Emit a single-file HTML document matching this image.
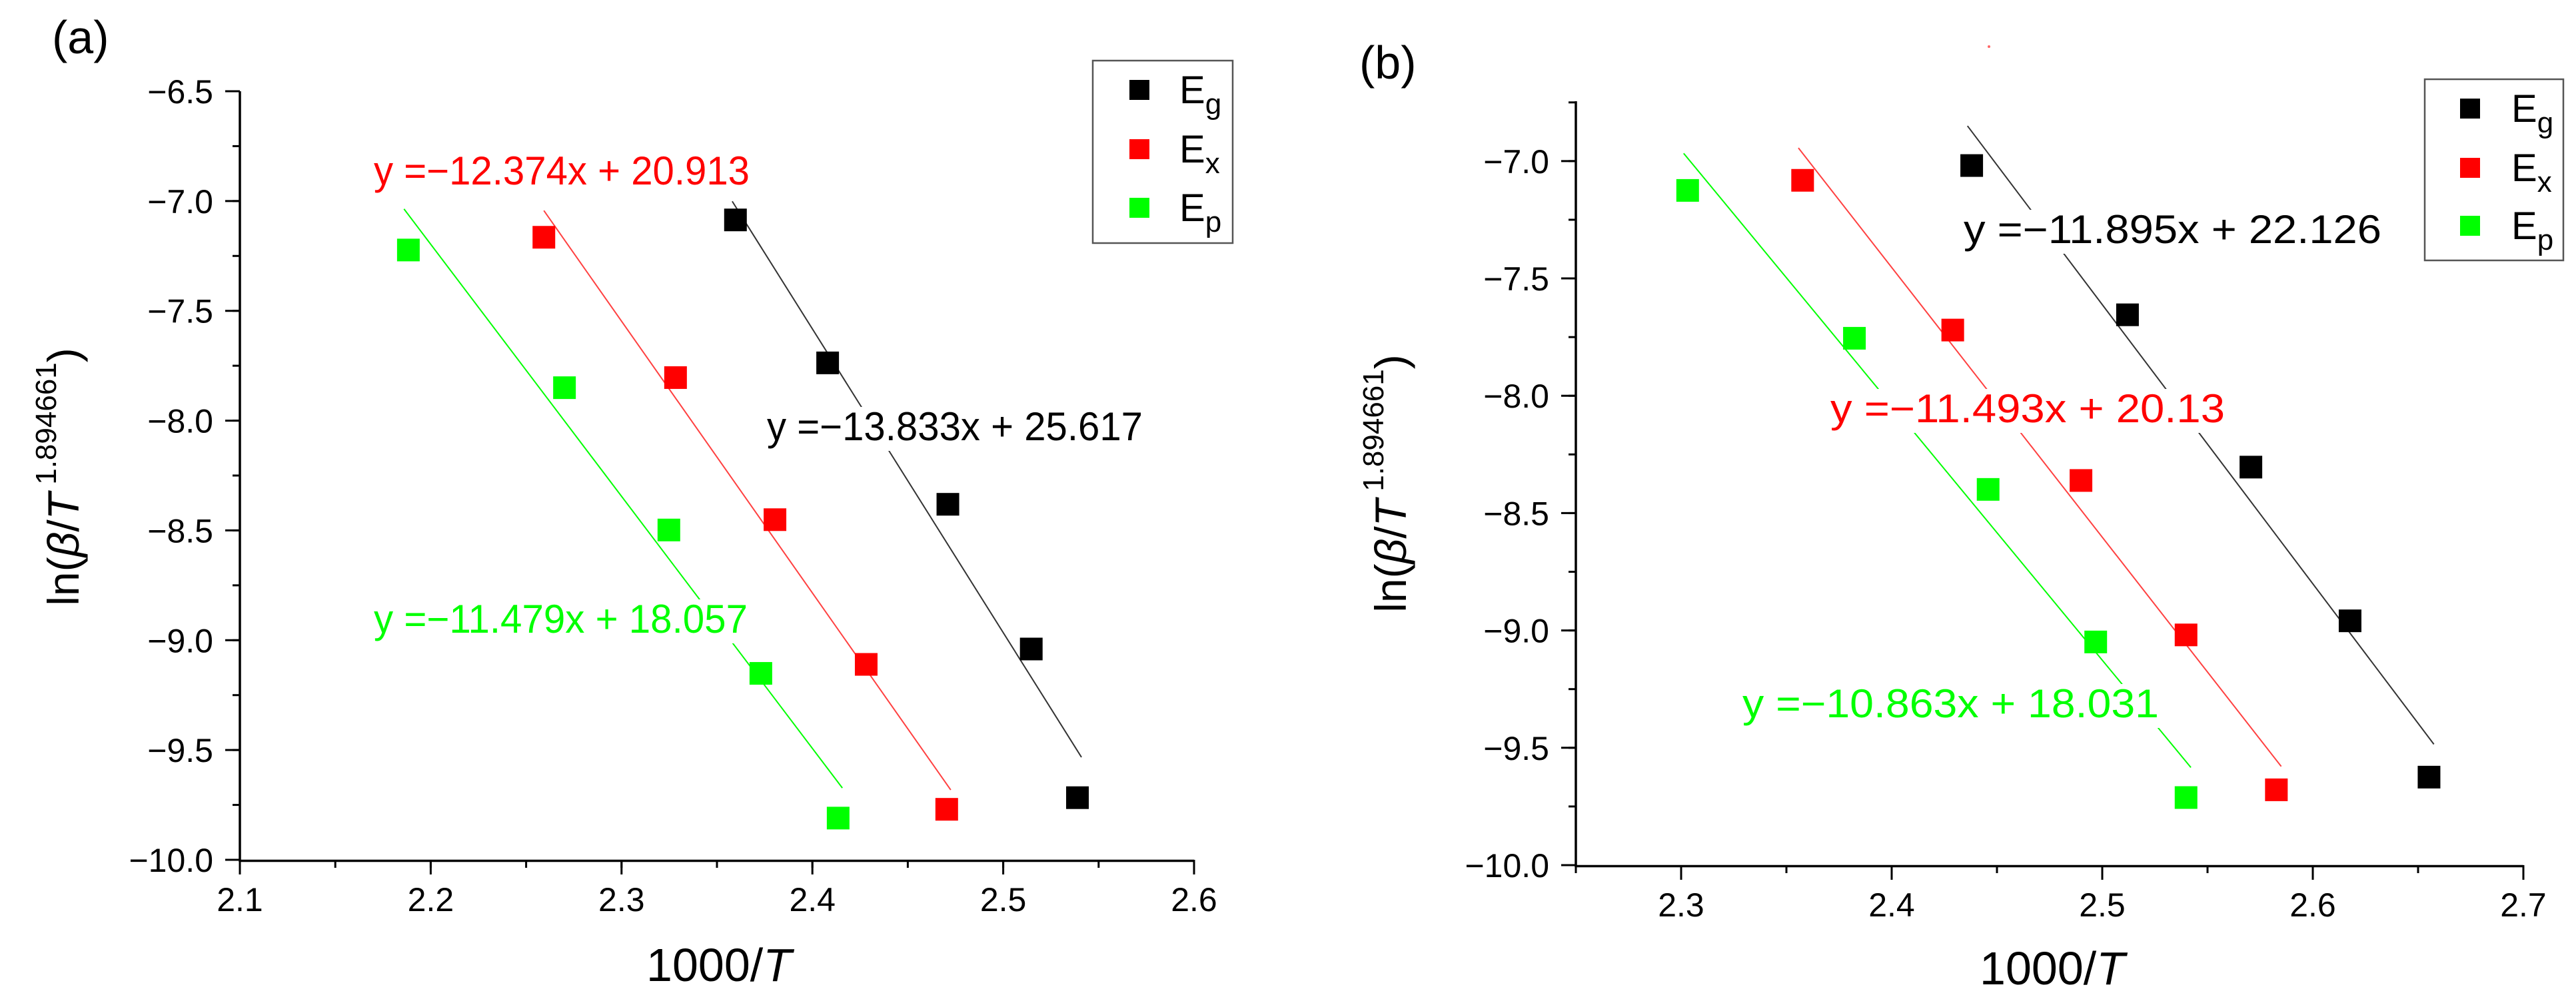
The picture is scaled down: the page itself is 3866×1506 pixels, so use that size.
<!DOCTYPE html>
<html><head><meta charset="utf-8"><style>
html,body{margin:0;padding:0;background:#fff}
svg{display:block;font-family:"Liberation Sans",Arial,sans-serif}
</style></head><body>
<svg id="chart" width="3866" height="1506" viewBox="0 0 3866 1506" xmlns="http://www.w3.org/2000/svg">
<text x="78" y="80" font-size="70">(a)</text>
<text x="2040" y="118" font-size="70">(b)</text>
<circle cx="2985" cy="70" r="2" fill="#f66"/>
</svg>
<script>
// ---- Panel A data ----
const aEgX=[2.3597,2.408,2.471,2.5147,2.5389];
const aEgY=[-7.086,-7.737,-8.381,-9.040,-9.717];
const aExX=[2.2593,2.3283,2.3804,2.4282,2.4704];
const aExY=[-7.165,-7.804,-8.451,-9.110,-9.770];
const aEpX=[2.1883,2.2701,2.3248,2.3730,2.4135];
const aEpY=[-7.223,-7.850,-8.498,-9.151,-9.810];
const aSlopes=[-13.833,-12.374,-11.479];
const aIntercepts=[25.617,20.913,18.057];
const aFitRange=[[2.358,2.541],[2.2593,2.4725],[2.186,2.4157]];
const aXTicks=["2.1","2.2","2.3","2.4","2.5","2.6"];
const aYTicks=["-6.5","-7.0","-7.5","-8.0","-8.5","-9.0","-9.5","-10.0"];
// ---- Panel B data ----
const bEgX=[2.438,2.512,2.5706,2.6177,2.6552];
const bEgY=[-7.019,-7.655,-8.304,-8.959,-9.625];
const bExX=[2.3577,2.429,2.4899,2.5398,2.5827];
const bExY=[-7.082,-7.720,-8.361,-9.019,-9.679];
const bEpX=[2.3031,2.3823,2.4458,2.4969,2.5398];
const bEpY=[-7.125,-7.755,-8.399,-9.049,-9.712];
const bSlopes=[-11.895,-11.493,-10.863];
const bIntercepts=[22.126,20.13,18.031];
const bFitRange=[[2.436,2.6575],[2.3557,2.585],[2.3012,2.5421]];
const bXTicks=["2.3","2.4","2.5","2.6","2.7"];
const bYTicks=["-7.0","-7.5","-8.0","-8.5","-9.0","-9.5","-10.0"];
const seriesNames=["g","x","p"];
const colors=["#000","#ff0000","#00ff00"];
const lineColors=["#333","#ff4040","#00ff00"];

const NS="http://www.w3.org/2000/svg";
const svg=document.getElementById('chart');
function mk(tag,attrs,parent){const e=document.createElementNS(NS,tag);for(const k in attrs)e.setAttribute(k,attrs[k]);(parent||svg).appendChild(e);return e;}
function fmt(s){return s.replace('-','\u2212');}

function panel(P){
  const g=mk('g',{});
  
  
  const sx=v=>P.x0+(v-P.xmin)/(P.xmax-P.xmin)*(P.x1-P.x0);
  const sy=v=>P.y0+(v-P.ymin)/(P.ymax-P.ymin)*(P.y1-P.y0);
  const ax=mk('line',{x1:P.x0,y1:P.y0+1.5,x2:P.x1,y2:P.y0+1.5,stroke:'#000','stroke-width':3.5},g);
  
  
  const ay=mk('line',{x1:P.x0,y1:P.y0+3,x2:P.x0,y2:P.y1,stroke:'#000','stroke-width':3.5},g);
  
  
  P.xTicks.forEach(t=>{const v=parseFloat(t),X=sx(v);
    mk('line',{x1:X,y1:P.y0,x2:X,y2:P.y0+22,stroke:'#000','stroke-width':3},g);
    const tx=mk('text',{x:X,y:P.y0+77,'font-size':50,'text-anchor':'middle'},g);tx.textContent=t;
    
    
  });
  for(let v=P.xmin;v<P.xmax+1e-6;v+=0.05){const X=sx(v);mk('line',{x1:X,y1:P.y0,x2:X,y2:P.y0+12,stroke:'#000','stroke-width':3},g);}
  P.yTicks.forEach(t=>{const v=parseFloat(t),Y=sy(v);
    mk('line',{x1:P.x0-22,y1:Y,x2:P.x0,y2:Y,stroke:'#000','stroke-width':3},g);
    const tx=mk('text',{x:P.x0-40,y:Y+18,'font-size':50,'text-anchor':'end'},g);tx.textContent=fmt(t);
    
    
  });
  for(let v=P.ymin;v<P.ymax+1e-6;v+=0.25){const Y=sy(v);mk('line',{x1:P.x0-11,y1:Y,x2:P.x0,y2:Y,stroke:'#000','stroke-width':3},g);}
  for(let i=0;i<3;i++){const r=P.fit[i];
    const l=mk('line',{x1:sx(r[0]),y1:sy(P.slopes[i]*r[0]+P.ints[i]),x2:sx(r[1]),y2:sy(P.slopes[i]*r[1]+P.ints[i]),stroke:lineColors[i],'stroke-width':2},g);
    
    
  }
  P.eqs.forEach((e,i)=>{
    const txt='y =\u2212'+Math.abs(P.slopes[e.s]).toFixed(3).replace(/0+$/,'').replace(/\.$/,'')+'x + '+P.ints[e.s].toString();
    const w=e.x1-e.x0;
    mk('rect',{x:e.x0-6,y:e.y-50,width:w+12,height:66,fill:'#fff'},g);
    const t=mk('text',{x:e.x0,y:e.y,'font-size':60,fill:colors[e.s],textLength:w,lengthAdjust:'spacingAndGlyphs'},g);
    t.textContent=txt;
    
    
  });
  P.series.forEach((s,i)=>{
    s[0].forEach((xv,j)=>{
      const r=mk('rect',{x:sx(xv)-17,y:sy(s[1][j])-17,width:34,height:34,fill:colors[i]},g);
      
      
    });
  });
  const xt=mk('text',{x:P.xtX,y:P.xtY,'font-size':70,'text-anchor':'middle'},g);
  xt.innerHTML='1000/<tspan font-style="italic">T</tspan>';
  
  
  const yt=mk('text',{x:0,y:0,'font-size':66,'text-anchor':'middle',transform:`translate(${P.ytX},${P.ytY}) rotate(-90)`},g);
  yt.innerHTML='ln(<tspan font-style="italic">β</tspan>/<tspan font-style="italic">T</tspan><tspan font-size="44" dy="-34"> 1.894661</tspan><tspan dy="34">)</tspan>';
  
  
  const lg=mk('g',{},g);
  
  
  mk('rect',{x:P.lg[0],y:P.lg[1],width:P.lg[2],height:P.lg[3],fill:'#fff',stroke:'#555','stroke-width':2.5},lg);
  for(let i=0;i<3;i++){const yy=P.lgY[i];
    mk('rect',{x:P.lgMx-15,y:yy-15,width:30,height:30,fill:colors[i]},lg);
    const t=mk('text',{x:P.lgTx,y:yy+20,'font-size':58},lg);
    t.innerHTML='E<tspan font-size="44" dy="16">'+seriesNames[i]+'</tspan>';
    
    
  }
}
panel({id:'panel-a',x0:360,x1:1792,xmin:2.1,xmax:2.6,y0:1291,y1:137,ymin:-10,ymax:-6.5,
  xTicks:aXTicks,yTicks:aYTicks,slopes:aSlopes,ints:aIntercepts,fit:aFitRange,
  series:[[aEgX,aEgY],[aExX,aExY],[aEpX,aEpY]],
  eqs:[{s:1,x0:561,x1:1125,y:277},{s:0,x0:1151,x1:1715,y:661},{s:2,x0:561,x1:1122,y:950}],
  xtX:1079,xtY:1473,ytX:118,ytY:716,lg:[1640,91,210,274],lgY:[135,224,312],lgMx:1710,lgTx:1770});
panel({id:'panel-b',x0:2365,x1:3787,xmin:2.25,xmax:2.7,y0:1299,y1:152,ymin:-10,ymax:-6.745,
  xTicks:bXTicks,yTicks:bYTicks,slopes:bSlopes,ints:bIntercepts,fit:bFitRange,
  series:[[bEgX,bEgY],[bExX,bExY],[bEpX,bEpY]],
  eqs:[{s:0,x0:2947,x1:3574,y:365},{s:1,x0:2747,x1:3339,y:634},{s:2,x0:2615,x1:3240,y:1077}],
  xtX:3080,xtY:1478,ytX:2110,ytY:726,lg:[3639,119,208,272],lgY:[163,252,339],lgMx:3707,lgTx:3769});
</script>
</body></html>
